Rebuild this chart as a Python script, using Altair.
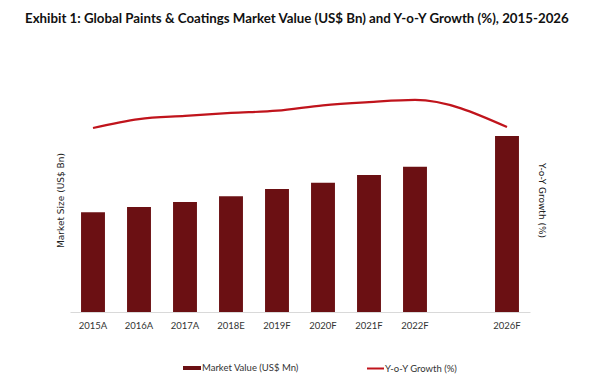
import altair as alt
import pandas as pd

years = ["2015A", "2016A", "2017A", "2018E", "2019F", "2020F", "2021F", "2022F", "2026F"]
market = [156, 164, 172, 181, 192, 202, 214, 227, 275]
growth = [5.75, 6.03, 6.13, 6.22, 6.29, 6.46, 6.56, 6.63, 5.78]
x_domain = ["2015A", "2016A", "2017A", "2018E", "2019F", "2020F", "2021F", "2022F", " ", "2026F"]

df = pd.DataFrame({
    "year": years,
    "market": market,
    "growth": growth,
    "s1": ["Market Value (US$ Mn)"] * len(years),
    "s2": ["Y-o-Y Growth (%)"] * len(years),
})

NARROW = "Lato"
BAR = "#6b1013"
LINE = "#c0141c"

x = alt.X(
    "year:N",
    sort=None,
    scale=alt.Scale(domain=x_domain, paddingInner=0.48, paddingOuter=0.24),
    axis=alt.Axis(
        title=None, labelAngle=0, ticks=False, domainColor="#d9d9d9",
        labelFont=NARROW, labelFontSize=9.5, labelPadding=8, labelColor="#333333",
    ),
)

bars = alt.Chart(df).mark_bar(color=BAR).encode(
    x=x,
    y=alt.Y(
        "market:Q",
        scale=alt.Scale(domain=[0, 350]),
        axis=alt.Axis(
            title="Market Size (US$ Bn)", labels=False, ticks=False, domain=False, grid=False,
            titleFont="DejaVu Sans", titleFontSize=9, titleFontWeight="normal",
            titleColor="#222222", titlePadding=5,
        ),
    ),
    fill=alt.Fill(
        "s1:N",
        scale=alt.Scale(range=[BAR]),
        legend=alt.Legend(
            title=None, orient="none", legendX=113, legendY=271, padding=0,
            symbolType="M-1,-0.22H1V0.22H-1Z", symbolSize=324, symbolStrokeWidth=0,
            labelFont=NARROW, labelFontSize=9.5, labelColor="#333333", labelOffset=1,
        ),
    ),
)

line = alt.Chart(df).mark_line(interpolate="monotone", strokeWidth=2.2).encode(
    x=x,
    y=alt.Y(
        "growth:Q",
        scale=alt.Scale(domain=[0, 7]),
        axis=alt.Axis(
            orient="right", title="Y-o-Y Growth (%)", labels=False, ticks=False, domain=False,
            grid=False, titleFont="DejaVu Sans", titleFontSize=9, titleFontWeight="normal",
            titleColor="#222222", titlePadding=6,
        ),
    ),
    stroke=alt.Stroke(
        "s2:N",
        scale=alt.Scale(range=[LINE]),
        legend=alt.Legend(
            title=None, orient="none", legendX=296, legendY=271, padding=0,
            symbolType="stroke", symbolSize=289, symbolStrokeWidth=2,
            labelFont=NARROW, labelFontSize=9.5, labelColor="#333333", labelOffset=0,
        ),
    ),
)

chart = (
    alt.layer(bars, line)
    .resolve_scale(y="independent")
    .properties(
        width=460,
        height=224,
        autosize=alt.AutoSizeParams(type="none"),
        padding={"left": 62, "top": 80, "right": 54, "bottom": 71},
        title=alt.TitleParams(
            "Exhibit 1: Global Paints & Coatings Market Value (US$ Bn) and Y-o-Y Growth (%), 2015-2026",
            anchor="start", frame="group", dx=-45, offset=63,
            font=NARROW, fontSize=13.3, fontWeight="bold", color="#111111",
        ),
        background="white",
    )
    .configure_view(stroke=None)
)

chart.save("out.html", embed_options={"renderer": "svg", "actions": False})
